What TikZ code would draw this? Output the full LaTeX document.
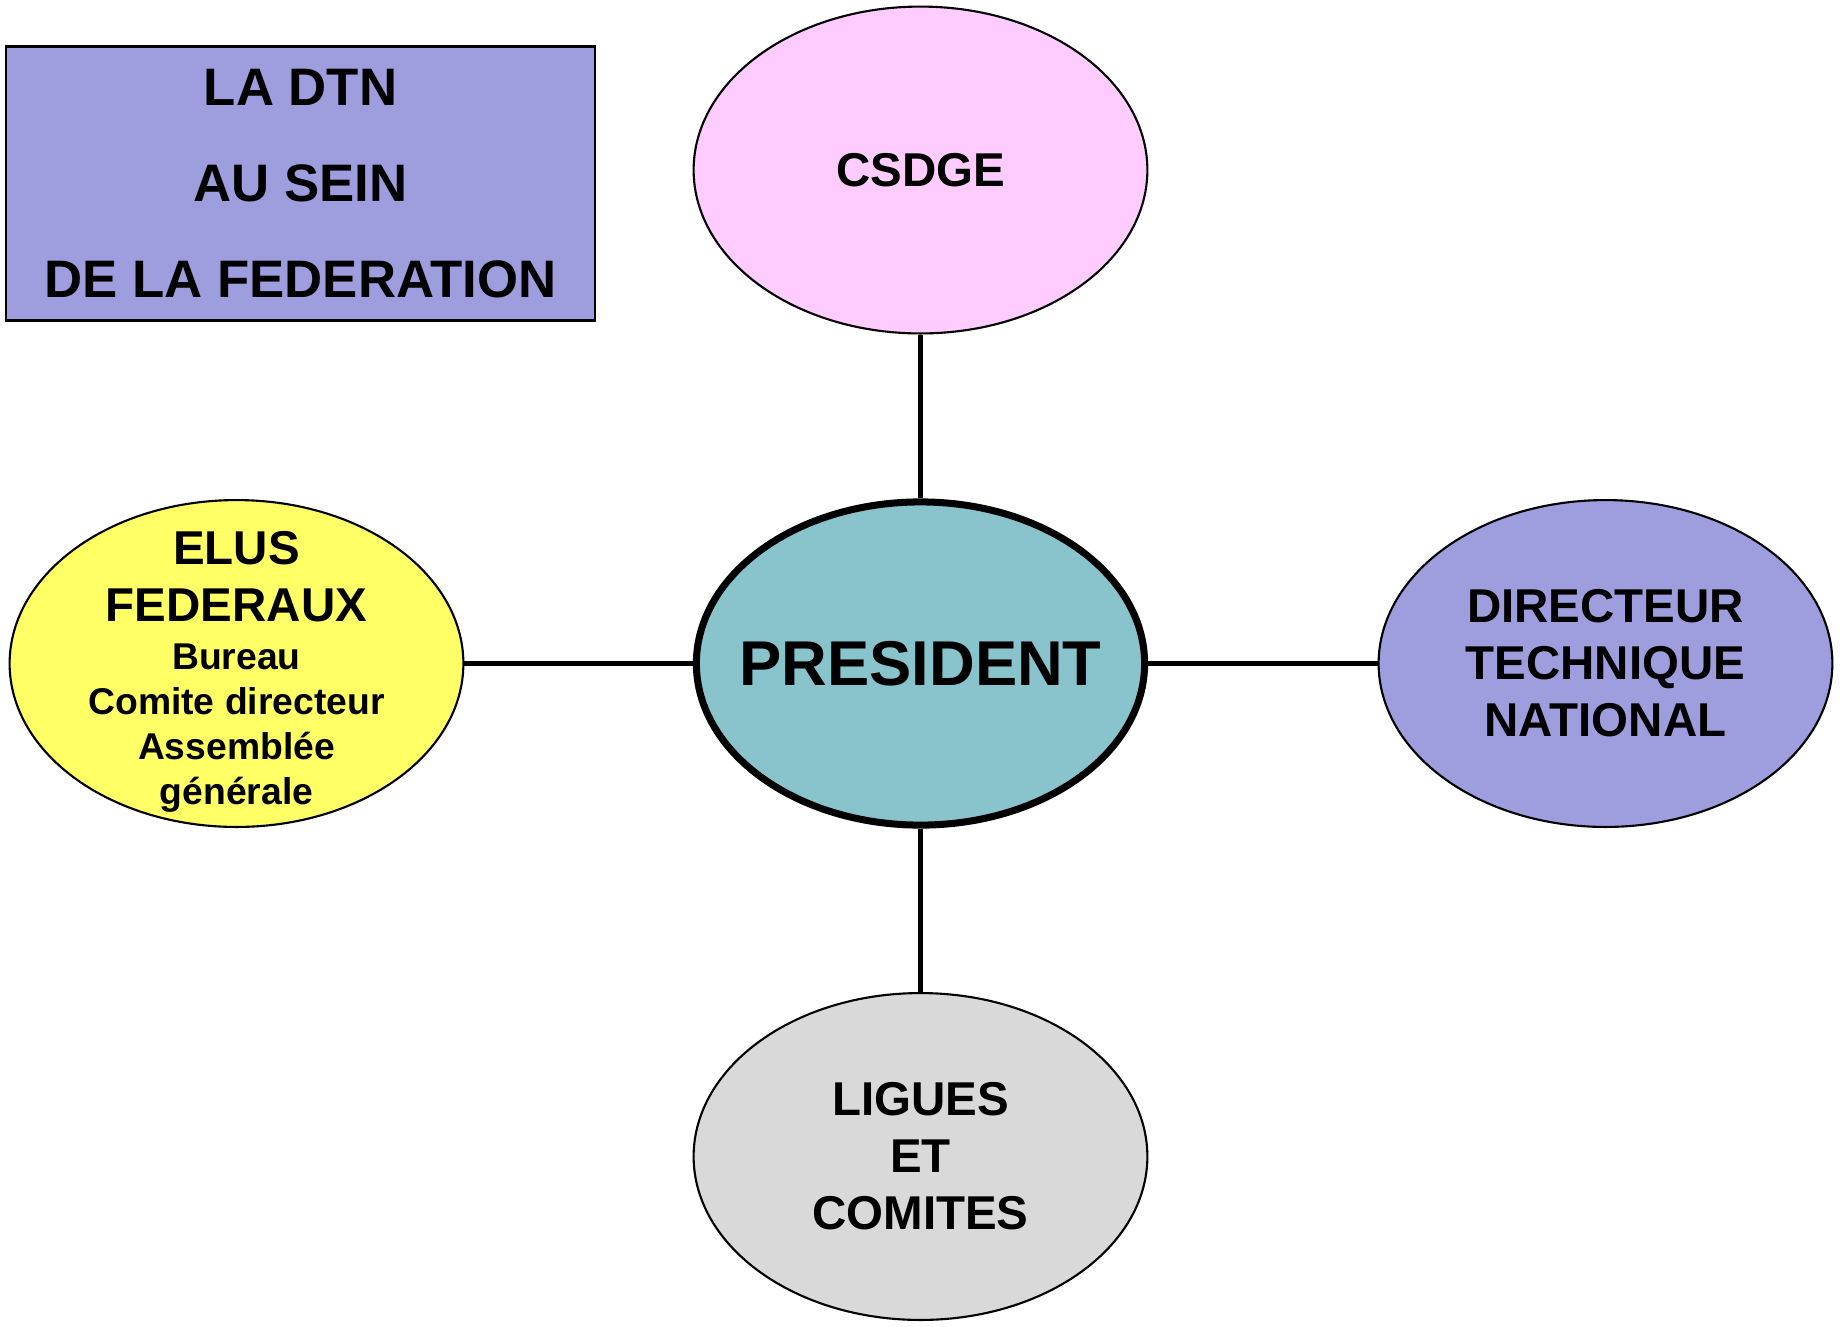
\documentclass[tikz,border=0pt]{standalone}
\usepackage{fontspec}
\setmainfont{Liberation Sans}
\usetikzlibrary{shapes.geometric, positioning}

\definecolor{lavande}{RGB}{158,158,222}
\definecolor{rose}{RGB}{255,204,255}
\definecolor{turquoise}{RGB}{137,196,205}
\definecolor{jaune}{RGB}{255,255,102}
\definecolor{gris}{RGB}{217,217,217}
\newcommand{\petit}{\fontsize{10.6}{12.8}\selectfont}

\begin{document}
\begin{tikzpicture}[x=0.01cm, y=-0.01cm,
    bulle/.style={ellipse, draw, line width=0.6pt, minimum width=4.535cm,
        minimum height=3.267cm, inner sep=0pt, align=center,
        font=\bfseries\fontsize{13.5}{16.2}\selectfont},
    lien/.style={line width=1.4pt}]
\useasboundingbox (0,0) rectangle (1841,1326);

% Title box
\node[draw, line width=0.65pt, fill=lavande, minimum width=5.88cm, minimum height=2.74cm,
    align=center, font=\bfseries\fontsize{15}{27.2}\selectfont] (titre) at (300.5,183.5)
    {LA DTN\\AU SEIN\\DE LA FEDERATION};

% Centre and the four bubbles
\node[bulle, fill=turquoise, line width=2pt, minimum width=4.48cm, minimum height=3.23cm,
    font=\bfseries\fontsize{18}{21}\selectfont] (pres) at (920.5,663.5) {\makebox[0pt]{PRESIDENT}};
\node[bulle, fill=rose] (csdge) at (920.5,170) {CSDGE};
\node[bulle, fill=gris] (ligues) at (920.5,1156.5) {LIGUES\\ET\\COMITES};
\node[bulle, fill=lavande] (dtn) at (1605.5,663.5) {DIRECTEUR\\TECHNIQUE\\NATIONAL};
\node[bulle, fill=jaune] (elus) at (236.5,663.5) {};
\node[align=center, font=\bfseries\fontsize{13.5}{16.2}\selectfont] (elus txt)
    at ([yshift=-2.3pt]elus.center)
    {ELUS\\FEDERAUX\\[-2.5pt]\petit Bureau\\[-3.4pt]\petit Comite directeur\\[-3.4pt]\petit Assemblée\\[-3.4pt]\petit générale};

% Links
\foreach \n in {csdge,elus,dtn,ligues}
    \draw[lien] (pres) -- (\n);
\end{tikzpicture}
\end{document}
